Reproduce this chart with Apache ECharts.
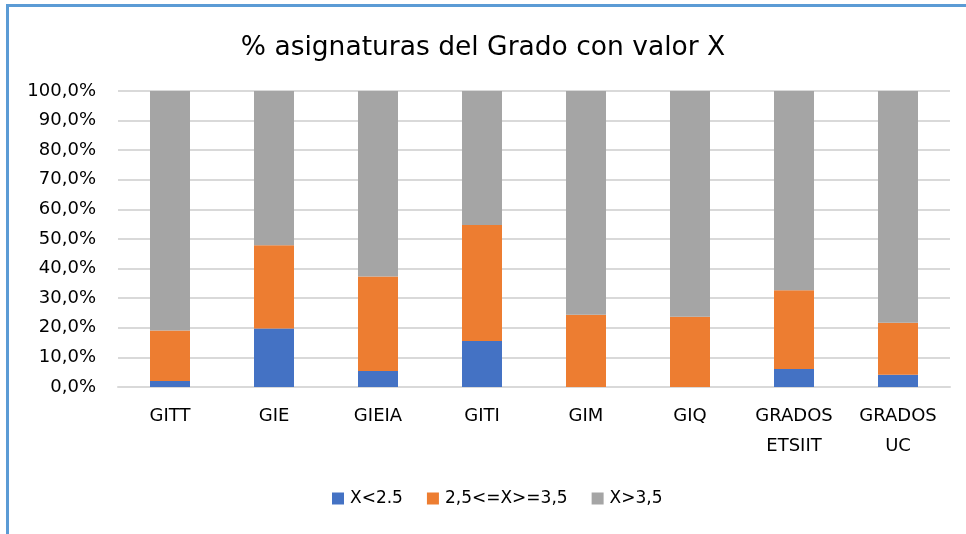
<!DOCTYPE html>
<html>
<head>
<meta charset="utf-8">
<script src="https://cdn.jsdelivr.net/npm/echarts@6/dist/echarts.min.js"></script>
<style>
html,body{margin:0;padding:0;background:#fff;}
#c{width:966px;height:534px;}
</style>
</head>
<body>
<div id="c"></div>
<script>
const categories = ['GITT', 'GIE', 'GIEIA', 'GITI', 'GIM', 'GIQ', 'GRADOS\nETSIIT', 'GRADOS\nUC'];
const seriesNames = ['X<2.5', '2,5<=X>=3,5', 'X>3,5'];
const lowValues = [2.0, 19.8, 5.4, 15.5, 0, 0, 6.1, 4.1];
const midValues = [17.1, 28.1, 31.9, 39.2, 24.4, 23.7, 26.6, 17.6];
const highValues = [80.9, 52.1, 62.7, 45.3, 75.6, 76.3, 67.3, 78.3];
const yTicks = [0, 10, 20, 30, 40, 50, 60, 70, 80, 90, 100];

const FONT = 'DejaVu Sans';
const chart = echarts.init(document.getElementById('c'));
chart.setOption({
  animation: false,
  backgroundColor: '#ffffff',
  title: {
    text: '% asignaturas del Grado con valor X',
    left: 'center',
    top: 30,
    textStyle: {fontFamily: FONT, fontSize: 26.5, fontWeight: 'normal', color: '#000'}
  },
  legend: {
    bottom: 22,
    left: 327,
    itemWidth: 12,
    itemHeight: 12,
    itemGap: 24,
    icon: 'rect',
    textStyle: {fontFamily: FONT, fontSize: 17, color: '#000', padding: [0, 0, 0, 1]},
    data: seriesNames
  },
  grid: {left: 118, right: 16, top: 91, bottom: 147, containLabel: false},
  xAxis: {
    type: 'category',
    data: categories,
    axisLine: {lineStyle: {color: '#d9d9d9', width: 2}},
    axisTick: {show: false},
    axisLabel: {fontFamily: FONT, fontSize: 18, color: '#000', margin: 14, lineHeight: 30, interval: 0}
  },
  yAxis: {
    type: 'value',
    min: yTicks[0],
    max: yTicks[yTicks.length - 1],
    interval: 10,
    axisLine: {show: false},
    axisTick: {show: false},
    splitLine: {lineStyle: {color: '#d9d9d9', width: 2}},
    axisLabel: {
      fontFamily: FONT, fontSize: 18, color: '#000', margin: 22,
      formatter: v => v.toFixed(1).replace('.', ',') + '%'
    }
  },
  series: [
    {name: seriesNames[0], type: 'bar', stack: 't', barWidth: 40, data: lowValues, itemStyle: {color: '#4472C4'}},
    {name: seriesNames[1], type: 'bar', stack: 't', barWidth: 40, data: midValues, itemStyle: {color: '#ED7D31'}},
    {name: seriesNames[2], type: 'bar', stack: 't', barWidth: 40, data: highValues, itemStyle: {color: '#A5A5A5'}}
  ],
  graphic: [
    {type: 'rect', shape: {x: 6, y: 4, width: 960, height: 3}, style: {fill: '#5B9BD5'}, silent: true},
    {type: 'rect', shape: {x: 6, y: 4, width: 3, height: 530}, style: {fill: '#5B9BD5'}, silent: true}
  ]
});
</script>
</body>
</html>
